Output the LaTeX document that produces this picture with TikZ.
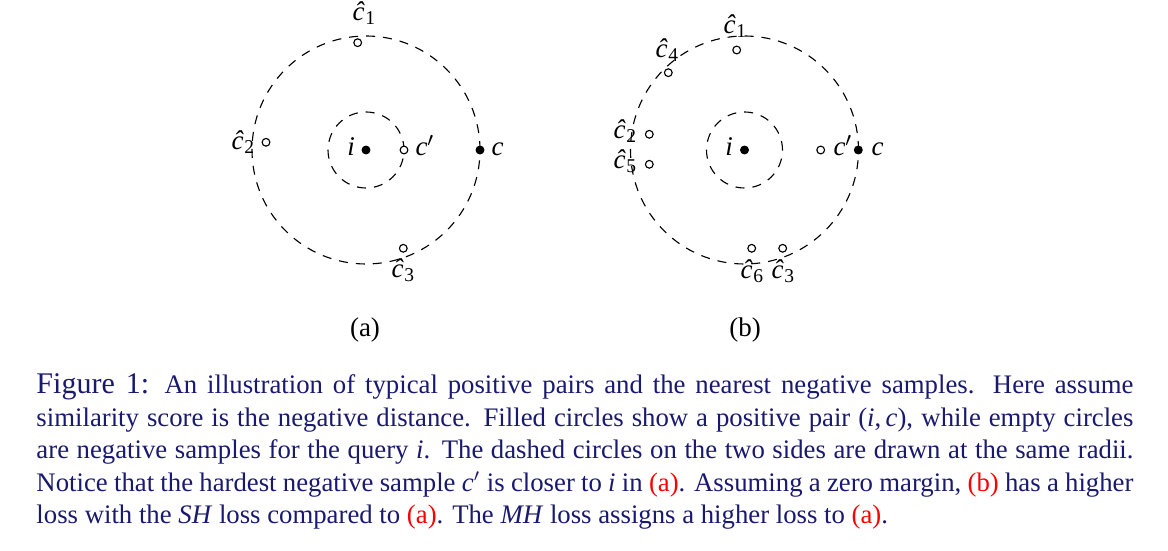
\documentclass[tikz,border=0pt]{standalone}
\usepackage{fontspec}
\setmainfont{Liberation Serif}
\definecolor{capblue}{RGB}{25,25,112}
\definecolor{refred}{RGB}{255,0,0}
\newcommand\chat[1]{\textit{ĉ}\kern0.3pt\raisebox{-1.6pt}{\fontsize{7.8}{8}\selectfont #1}}
\newcommand\cpr{\textit{c}$'$}
\begin{document}
\begin{tikzpicture}[x=0.4pt,y=-0.4pt,
  ring/.style={draw, circle, dashed, dash pattern=on 3.6pt off 3.2pt, line width=0.45pt, inner sep=0pt},
  negpt/.style={draw, circle, fill=white, line width=0.45pt, minimum size=3.1pt, inner sep=0pt},
  pospt/.style={draw, circle, fill=black, line width=0.45pt, minimum size=3.1pt, inner sep=0pt},
  lbl/.style={inner sep=0pt, anchor=base west, font=\fontsize{10.8}{12}\selectfont},
  subcap/.style={inner sep=0pt, anchor=base, font=\fontsize{10.8}{12}\selectfont},
  capline/.style={inner sep=0pt, anchor=base west, text=capblue, font=\fontsize{10.7}{13}\selectfont}]
\useasboundingbox (0,0) rectangle (1168,551);
% ---- panel (a)
\node[ring, minimum size=91.2pt] (outA) at (366,150) {};
\node[ring, minimum size=30.4pt] (inA) at (366,150) {};
\node[pospt] (iA) at (366,150) {};
\node[pospt] (cA) at (480,150) {};
\node[negpt] (cpA) at (404,150) {};
\node[negpt] (c1A) at (357.7,42.7) {};
\node[negpt] (c2A) at (266,142.3) {};
\node[negpt] (c3A) at (403.3,248.3) {};
\node[lbl, anchor=base] (liA) at (351,156) {\textit{i}};
\node[lbl] (lcpA) at (415,156) {\cpr};
\node[lbl] (lcA) at (491,156) {\textit{c}};
\node[lbl] (l1A) at (352,21) {\chat{1}};
\node[lbl] (l2A) at (231,150) {\chat{2}};
\node[lbl] (l3A) at (391,278) {\chat{3}};
\node[subcap] (subA) at (365,337) {(a)};
% ---- panel (b)
\node[ring, minimum size=91.2pt] (outB) at (744.5,150) {};
\node[ring, minimum size=30.4pt] (inB) at (744.5,150) {};
\node[pospt] (iB) at (744.5,150) {};
\node[pospt] (cB) at (858.3,150) {};
\node[negpt] (cpB) at (820.7,150) {};
\node[negpt] (c1B) at (736.7,50) {};
\node[negpt] (c4B) at (668.3,72.7) {};
\node[negpt] (c2B) at (649.3,134.3) {};
\node[negpt] (c5B) at (649.3,164.3) {};
\node[negpt] (c6B) at (751.7,248.3) {};
\node[negpt] (c3B) at (782.7,248.3) {};
\node[lbl, anchor=base] (liB) at (729,156) {\textit{i}};
\node[lbl] (lcpB) at (833,156) {\cpr};
\node[lbl] (lcB) at (871,156) {\textit{c}};
\node[lbl] (l1B) at (723,34) {\chat{1}};
\node[lbl] (l4B) at (655,58) {\chat{4}};
\node[lbl] (l2B) at (613,139) {\chat{2}};
\node[lbl] (l5B) at (613,169) {\chat{5}};
\node[lbl] (l6B) at (740,279) {\chat{6}};
\node[lbl] (l3B) at (771,279) {\chat{3}};
\node[subcap] (subB) at (745,337) {(b)};
% ---- caption
\node[capline] (cap1) at (36,394) {\makebox[438.8pt][s]{{\fontsize{12}{15}\selectfont Figure 1:} An illustration of typical positive pairs and the nearest negative samples. Here assume}};
\node[capline] (cap2) at (36,426.5) {\makebox[438.8pt][s]{similarity score is the negative distance. Filled circles show a positive pair (\textit{i},\,\textit{c}), while empty circles}};
\node[capline] (cap3) at (36,459) {\makebox[438.8pt][s]{are negative samples for the query \textit{i}. The dashed circles on the two sides are drawn at the same radii.}};
\node[capline] (cap4) at (36,491.5) {\makebox[438.8pt][s]{Notice that the hardest negative sample \cpr\ is closer to \textit{i} in \textcolor{refred}{(a)}. Assuming a zero margin, \textcolor{refred}{(b)} has a higher}};
\node[capline] (cap5) at (36,524) {loss with the \textit{SH} loss compared to \textcolor{refred}{(a)}. The \textit{MH} loss assigns a higher loss to \textcolor{refred}{(a)}.};
\end{tikzpicture}
\end{document}
